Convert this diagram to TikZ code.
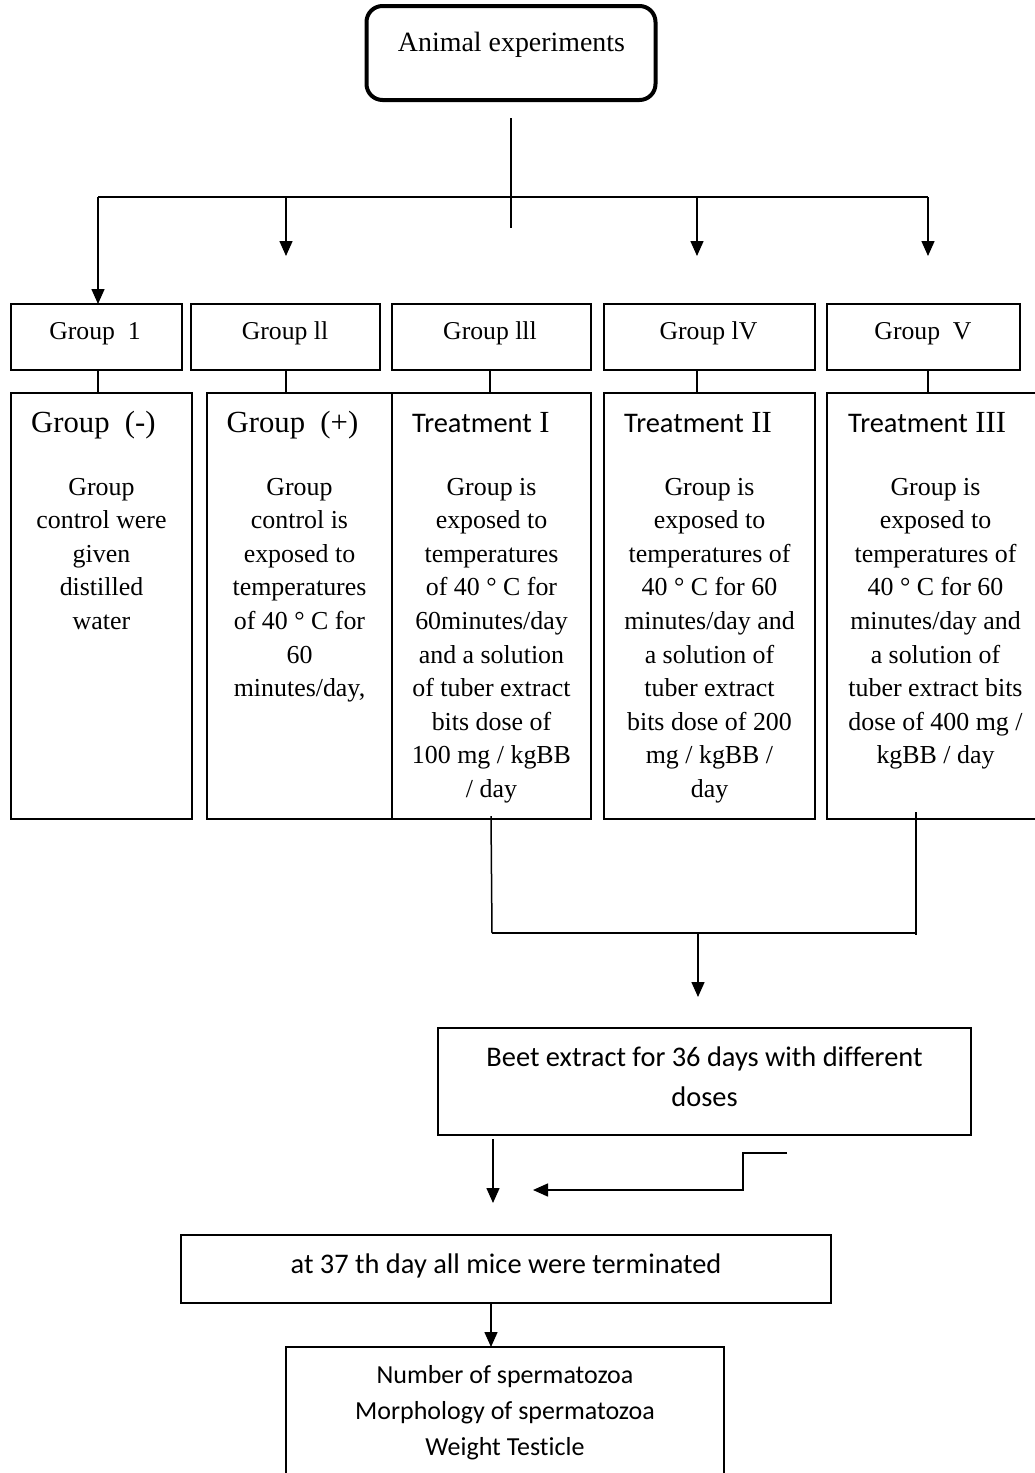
\documentclass[tikz,border=0pt]{standalone}
\usepackage{fontspec}
\setmainfont{Liberation Serif}
\newfontfamily\carl[Ligatures={NoCommon}]{Carlito}
\usetikzlibrary{arrows.meta}
\newcommand{\mlines}[1]{\begin{tabular}[t]{@{}c@{}}#1\end{tabular}}
\begin{document}
\begin{tikzpicture}[x=1pt,y=-1pt,
  line/.style={line width=1.5pt},
  box/.style={draw, line width=1.8pt, inner sep=0pt, outer sep=0pt},
  arr/.style={line width=1.5pt, -{Triangle[length=15pt,width=13pt]}},
  sbody/.style={inner sep=0pt, anchor=base, font=\fontsize{25.9}{33.6}\selectfont},
  slabel/.style={inner sep=0pt, anchor=base, font=\fontsize{25.7}{30}\selectfont},
  shead/.style={inner sep=0pt, anchor=base west, font=\fontsize{30.7}{36}\selectfont},
  cbody/.style={inner sep=0pt, anchor=base, font=\carl\fontsize{28.4}{40}\selectfont},
  cfinal/.style={inner sep=0pt, anchor=base, font=\carl\fontsize{26}{36}\selectfont}]
\useasboundingbox (0,0) rectangle (1035,1473);
\clip (0,0) rectangle (1035,1473);
\fill[white] (0,0) rectangle (1035,1473);

% top box
\node[draw, line width=4pt, rounded corners=16pt, minimum width=289pt, minimum height=94pt, inner sep=0pt] (top) at (511,53) {};
\node[inner sep=0pt, anchor=base, font=\fontsize{27.9}{32}\selectfont] (toptxt) at (511.5,51) {Animal experiments};

% trunk and bar
\coordinate (tr1) at (511,118);
\coordinate (tr2) at (511,228);
\coordinate (a1) at (98,197);
\coordinate (a2) at (286,197);
\coordinate (a4) at (697,197);
\coordinate (a5) at (928,197);
\draw[line] (tr1) -- (tr2);
\draw[line] (a1) -- (a5);

% small boxes
\node[box, minimum width=171pt, minimum height=66pt] (g1) at (96.5,337) {};
\node[box, minimum width=189pt, minimum height=66pt] (g2) at (285.5,337) {};
\node[box, minimum width=199pt, minimum height=66pt] (g3) at (491.5,337) {};
\node[box, minimum width=211pt, minimum height=66pt] (g4) at (709.5,337) {};
\node[box, minimum width=193pt, minimum height=66pt] (g5) at (923.5,337) {};
\node[slabel] (l1) at (95,339) {Group\ \ 1};
\node[slabel] (l2) at (285,339) {Group ll};
\node[slabel] (l3) at (490,339) {Group lll};
\node[slabel] (l4) at (708.5,339) {Group lV};
\node[slabel] (l5) at (923,339) {Group\ \ V};

% arrows from bar
\coordinate (e2) at (286,256);
\coordinate (e4) at (697,256);
\coordinate (e5) at (928,256);
\draw[arr] (a1) -- (a1 |- g1.north);
\draw[arr] (a2) -- (e2);
\draw[arr] (a4) -- (e4);
\draw[arr] (a5) -- (e5);

% big boxes
\node[box, minimum width=181pt, minimum height=426pt] (b1) at (101.5,606) {};
\node[box, minimum width=185pt, minimum height=426pt] (b2) at (299.5,606) {};
\node[box, minimum width=199pt, minimum height=426pt] (b3) at (491.5,606) {};
\node[box, minimum width=211pt, minimum height=426pt] (b4) at (709.5,606) {};
\node[box, minimum width=218pt, minimum height=426pt] (b5) at (936,606) {};

% connectors small to big
\coordinate (a3) at (490,197);
\draw[line] (g1.south -| a1) -- (b1.north -| a1);
\draw[line] (g2.south -| a2) -- (b2.north -| a2);
\draw[line] (g3.south -| a3) -- (b3.north -| a3);
\draw[line] (g4.south -| a4) -- (b4.north -| a4);
\draw[line] (g5.south -| a5) -- (b5.north -| a5);

% headings
\node[shead] (h1) at (31,432) {Group\ \ (-)};
\node[shead] (h2) at (226.5,432) {Group\ \ (+)};
\node[shead] (h3) at (412,432) {{\carl\fontsize{28.4}{34}\selectfont Treatment} I};
\node[shead] (h4) at (624,432) {{\carl\fontsize{28.4}{34}\selectfont Treatment} II};
\node[shead] (h5) at (848,432) {{\carl\fontsize{28.4}{34}\selectfont Treatment} III};

% bodies
\node[sbody] (t1) at (101.5,495) {\mlines{Group\\control were\\given\\distilled\\water}};
\node[sbody] (t2) at (299.5,495) {\mlines{Group\\control is\\exposed to\\temperatures\\of 40 ° C for\\60\\minutes/day,}};
\node[sbody] (t3) at (491.5,495) {\mlines{Group is\\exposed to\\temperatures\\of 40 ° C for\\60minutes/day\\and a solution\\of tuber extract\\bits dose of\\100 mg / kgBB\\/ day}};
\node[sbody] (t4) at (709.5,495) {\mlines{Group is\\exposed to\\temperatures of\\40 ° C for 60\\minutes/day and\\a solution of\\tuber extract\\bits dose of 200\\mg / kgBB /\\day}};
\node[sbody] (t5) at (935.5,495) {\mlines{Group is\\exposed to\\temperatures of\\40 ° C for 60\\minutes/day and\\a solution of\\tuber extract bits\\dose of 400 mg /\\kgBB / day}};

% merge lines
\coordinate (m1) at (491,816);
\coordinate (m2) at (492,933);
\coordinate (m3) at (916,812);
\coordinate (m4) at (916,935);
\coordinate (j1) at (698,933);
\coordinate (j2) at (698,997);
\draw[line] (m1) -- (m2);
\draw[line] (m3) -- (m4);
\draw[line] (m2) -- (m2 -| m3);
\draw[arr] (j1) -- (j2);

% beet box
\node[box, minimum width=533pt, minimum height=107pt] (beet) at (704.5,1081.5) {};
\node[cbody] (beettxt) at (704.5,1066) {\mlines{Beet extract for 36 days with different\\doses}};

% arrows below beet
\coordinate (k1) at (493,1139);
\coordinate (k2) at (493,1203);
\draw[arr] (k1) -- (k2);
\coordinate (n1) at (787,1153);
\coordinate (n2) at (743,1153);
\coordinate (n3) at (743,1190);
\coordinate (n4) at (533,1190);
\draw[arr] (n1) -- (n2) -- (n3) -- (n4);

% terminated box
\node[box, minimum width=650pt, minimum height=68pt] (term) at (506,1269) {};
\node[cbody] (termtxt) at (506,1273) {at 37 th day all mice were terminated};

% final box
\node[box, minimum width=438pt, minimum height=160pt] (fin) at (505,1427) {};
\coordinate (p1) at (491,1303);
\draw[arr] (p1) -- (p1 |- fin.north);
\node[cfinal] (fintxt) at (505,1383) {\mlines{Number of spermatozoa\\Morphology of spermatozoa\\Weight Testicle}};
\end{tikzpicture}
\end{document}
